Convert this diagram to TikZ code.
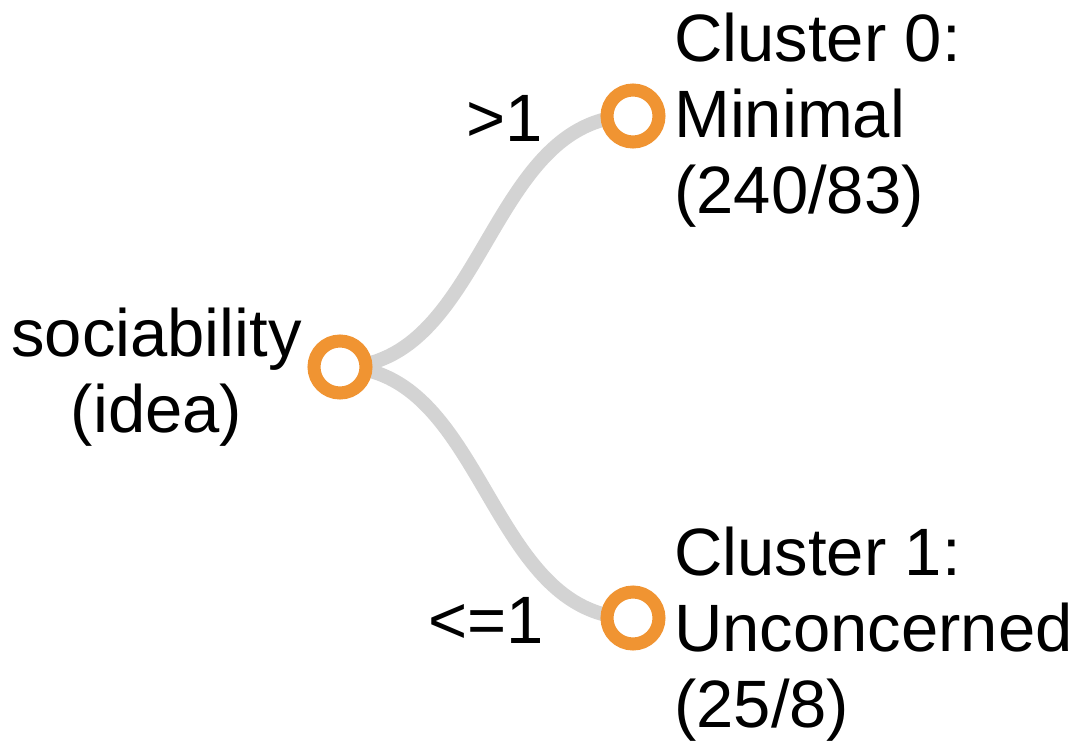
\documentclass[tikz,border=0pt]{standalone}
\usepackage{fontspec}
\setmainfont{Liberation Sans}
\usetikzlibrary{positioning, backgrounds}
\definecolor{ringorange}{RGB}{240,148,50}
\definecolor{linkgray}{RGB}{211,211,211}
\tikzset{
    tnode/.style={circle, draw=ringorange, line width=13pt, fill=white, minimum size=52pt, inner sep=0pt},
    tlink/.style={draw=linkgray, line width=14pt},
    tlabel/.style={font=\fontsize{67}{76}\selectfont, inner sep=0pt},
}
\begin{document}
\begin{tikzpicture}[x=1pt, y=-1pt]
    \useasboundingbox (0,0) rectangle (1090,742);
    \node[tnode] (root) at (340,367) {};
    \node[tnode] (c0) at (633,116) {};
    \node[tnode] (c1) at (633,618) {};
    \begin{pgfonlayer}{background}
        \draw[tlink] (root.center) .. controls +(146,0) and +(-146,0) .. (c0.center);
        \draw[tlink] (root.center) .. controls +(146,0) and +(-146,0) .. (c1.center);
    \end{pgfonlayer}
    \node[tlabel, anchor=base east, align=center] (rootlabel) at (302,432) {sociability\\(idea)};
    \node[tlabel, anchor=base east] (gtlabel) at (543,141) {>1};
    \node[tlabel, anchor=base east] (lelabel) at (544,643) {<=1};
    \node[tlabel, anchor=base west, align=left] (c0label) at (674,213) {Cluster 0:\\Minimal\\(240/83)};
    \node[tlabel, anchor=base west, align=left] (c1label) at (674,727) {Cluster 1:\\Unconcerned\\(25/8)};
\end{tikzpicture}
\end{document}
